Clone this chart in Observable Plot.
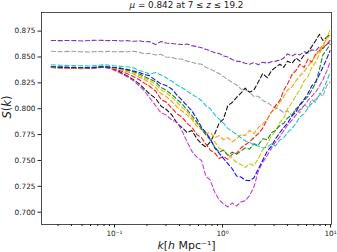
<!DOCTYPE html>
<html><head><meta charset="utf-8">
<script src="https://cdn.jsdelivr.net/npm/d3@7"></script>
<script src="https://cdn.jsdelivr.net/npm/@observablehq/plot@0.6"></script>
<style>body{margin:0;background:#fff}svg{display:block}</style>
</head><body><div id="chart"></div>
<script>
const title = "μ = 0.842 at 7 ≤ z ≤ 19.2";
const xLabel = "k[h Mpc⁻¹]";
const yLabel = "S(k)";
const yTicks = [0.700, 0.725, 0.750, 0.775, 0.800, 0.825, 0.850, 0.875];
const xMajor = [0.1, 1, 10];
const xMajorLabels = ["10⁻¹", "10⁰", "10¹"];
const xMinor = [0.03,0.04,0.05,0.06,0.07,0.08,0.09,0.2,0.3,0.4,0.5,0.6,0.7,0.8,0.9,2,3,4,5,6,7,8,9];

const k = [0.026,0.032,0.04,0.05,0.06,0.07,0.08,0.09,0.1,0.115,0.13,0.15,0.17,0.19,0.21,0.24,0.27,0.3,0.34,0.38,0.42,0.47,0.52,0.58,0.64,0.7,0.77,0.85,0.93,1.02,1.12,1.23,1.35,1.48,1.62,1.78,1.95,2.15,2.35,2.6,2.85,3.1,3.4,3.7,4.0,4.4,4.8,5.2,5.7,6.2,6.7,7.3,7.9,8.5,9.2,9.9];

const sPurple = [0.866,0.8658,0.866,0.8655,0.866,0.8663,0.866,0.8658,0.866,0.8655,0.8658,0.8652,0.8657,0.8645,0.865,0.862,0.865,0.8635,0.863,0.8625,0.862,0.8625,0.861,0.860,0.859,0.8575,0.856,0.854,0.8535,0.851,0.850,0.8475,0.846,0.8455,0.844,0.843,0.8445,0.8425,0.845,0.844,0.8455,0.846,0.847,0.849,0.853,0.851,0.853,0.852,0.855,0.854,0.857,0.856,0.860,0.858,0.862,0.864];
const sGray = [0.8555,0.855,0.8555,0.855,0.8548,0.8555,0.855,0.8555,0.855,0.8553,0.855,0.8555,0.8545,0.853,0.8535,0.852,0.8525,0.850,0.8495,0.848,0.848,0.846,0.845,0.8435,0.843,0.840,0.8385,0.836,0.834,0.831,0.828,0.8255,0.823,0.819,0.8185,0.816,0.812,0.812,0.808,0.806,0.803,0.801,0.799,0.796,0.798,0.793,0.800,0.796,0.804,0.801,0.809,0.806,0.815,0.812,0.822,0.826];
const sBlack = [0.8398,0.8395,0.839,0.8388,0.839,0.8398,0.8402,0.8395,0.838,0.835,0.832,0.828,0.824,0.819,0.8145,0.810,0.8025,0.7995,0.794,0.786,0.782,0.777,0.779,0.771,0.766,0.763,0.768,0.776,0.786,0.790,0.803,0.806,0.811,0.815,0.820,0.816,0.818,0.826,0.834,0.830,0.837,0.840,0.843,0.840,0.846,0.844,0.849,0.846,0.852,0.855,0.860,0.866,0.872,0.866,0.869,0.872];
const sMagenta = [0.8400,0.8396,0.8392,0.839,0.8388,0.8395,0.840,0.839,0.837,0.834,0.831,0.827,0.822,0.817,0.811,0.803,0.796,0.794,0.789,0.787,0.779,0.768,0.759,0.753,0.750,0.735,0.731,0.719,0.712,0.708,0.705,0.709,0.706,0.710,0.711,0.716,0.724,0.740,0.748,0.755,0.762,0.768,0.773,0.779,0.784,0.789,0.794,0.799,0.803,0.808,0.812,0.816,0.822,0.828,0.836,0.845];
const sRed = [0.8402,0.8398,0.8395,0.8392,0.8393,0.840,0.8407,0.8398,0.8385,0.8365,0.834,0.831,0.828,0.8245,0.822,0.817,0.809,0.8065,0.8005,0.795,0.792,0.786,0.782,0.775,0.772,0.766,0.760,0.757,0.752,0.754,0.751,0.756,0.757,0.762,0.765,0.768,0.772,0.776,0.781,0.790,0.797,0.803,0.808,0.818,0.824,0.833,0.837,0.843,0.840,0.848,0.845,0.853,0.856,0.859,0.862,0.866];
const sOrange = [0.8398,0.8395,0.8393,0.839,0.8392,0.840,0.8405,0.840,0.839,0.8375,0.836,0.8335,0.8305,0.828,0.8255,0.8205,0.8145,0.812,0.807,0.8015,0.798,0.794,0.790,0.783,0.780,0.776,0.777,0.772,0.774,0.770,0.772,0.768,0.771,0.775,0.774,0.779,0.776,0.782,0.785,0.790,0.797,0.800,0.806,0.812,0.818,0.821,0.827,0.832,0.836,0.841,0.846,0.851,0.857,0.862,0.867,0.871];
const sYellow = [0.8408,0.8402,0.840,0.8397,0.8398,0.8405,0.841,0.8403,0.8395,0.8385,0.837,0.835,0.832,0.8295,0.8275,0.8235,0.818,0.8155,0.811,0.806,0.8015,0.797,0.791,0.786,0.781,0.777,0.771,0.768,0.762,0.760,0.756,0.752,0.748,0.746,0.743,0.747,0.745,0.752,0.760,0.766,0.774,0.778,0.787,0.791,0.800,0.806,0.813,0.818,0.827,0.831,0.840,0.845,0.853,0.860,0.868,0.876];
const sGreen = [0.8405,0.8405,0.840,0.8398,0.8397,0.8403,0.841,0.8405,0.8398,0.839,0.8375,0.836,0.8335,0.831,0.829,0.826,0.8205,0.818,0.8135,0.809,0.805,0.799,0.7935,0.787,0.780,0.775,0.770,0.763,0.758,0.760,0.755,0.758,0.756,0.759,0.762,0.761,0.766,0.765,0.771,0.770,0.777,0.779,0.784,0.786,0.791,0.794,0.800,0.803,0.808,0.812,0.818,0.825,0.838,0.852,0.857,0.862];
const sBlue = [0.8405,0.840,0.8398,0.8396,0.8395,0.840,0.8405,0.840,0.8398,0.839,0.838,0.8365,0.835,0.833,0.832,0.8275,0.824,0.8225,0.819,0.813,0.8085,0.803,0.798,0.790,0.782,0.777,0.771,0.762,0.757,0.752,0.747,0.742,0.735,0.734,0.731,0.7305,0.733,0.742,0.750,0.759,0.764,0.771,0.777,0.782,0.786,0.793,0.797,0.804,0.809,0.815,0.822,0.826,0.833,0.840,0.848,0.856];
const sCyan = [0.8425,0.842,0.8418,0.8415,0.8412,0.842,0.8425,0.842,0.8415,0.841,0.8405,0.8395,0.837,0.8355,0.8335,0.835,0.8325,0.830,0.8265,0.823,0.8205,0.817,0.814,0.811,0.808,0.803,0.800,0.794,0.790,0.786,0.781,0.778,0.775,0.772,0.769,0.7675,0.765,0.764,0.762,0.763,0.766,0.764,0.770,0.772,0.777,0.781,0.786,0.792,0.795,0.801,0.805,0.809,0.813,0.818,0.826,0.835];

const seriesNames = ["purple","gray","black","magenta","red","orange","yellow","green","blue","cyan"];
const seriesValues = [sPurple,sGray,sBlack,sMagenta,sRed,sOrange,sYellow,sGreen,sBlue,sCyan];
const seriesColors = ["#7a35b8","#a0a0a0","#151515","#cc3fd6","#ff1a1a","#ff9c00","#c8c414","#138a13","#1010ee","#22c5cc"];

const rows = [];
seriesValues.forEach((vals, i) => vals.forEach((v, j) => rows.push({k: k[j], S: v, name: seriesNames[i]})));

const lines = seriesNames.map((name, i) => Plot.line(rows.filter(r => r.name === name), {
  x: "k", y: "S", stroke: seriesColors[i], strokeWidth: 1.1, strokeDasharray: "4.2,2.6"
}));

const plot = Plot.plot({
  width: 337, height: 252,
  marginLeft: 41, marginRight: 6, marginTop: 12, marginBottom: 28,
  x: {type: "log", domain: [0.02109, 10.215]},
  y: {domain: [0.6881, 0.893]},
  style: {fontFamily: "DejaVu Sans", fontSize: "7.3px", color: "#222", background: "#fff"},
  marks: [
    Plot.axisY({ticks: yTicks, tickFormat: d3.format(".3f"), tickSize: 3.5, tickPadding: 2.5, label: null}),
    Plot.axisX({ticks: xMinor, tickSize: 2, tickFormat: () => "", label: null}),
    Plot.axisX({ticks: xMajor, tickSize: 3.5, tickPadding: 2.5, tickFormat: d => xMajorLabels[xMajor.indexOf(d)], label: null}),
    ...lines,
    Plot.frame({stroke: "#222", strokeWidth: 0.8}),
    Plot.text([title], {text: d => d, frameAnchor: "top", dy: -7.4, lineAnchor: "middle", fontSize: 8.8}),
    Plot.text([xLabel], {text: d => d, frameAnchor: "bottom", dy: 20.5, lineAnchor: "middle", fontSize: 11}),
    Plot.text([yLabel], {text: d => d, frameAnchor: "left", dx: -34, rotate: -90, lineAnchor: "middle", fontSize: 11.5})
  ]
});

const svgns = "http://www.w3.org/2000/svg";
function rich(plain, parts) {
  for (const t of plot.querySelectorAll("text")) {
    if (t.textContent === plain) {
      t.textContent = "";
      for (const [str, it] of parts) {
        const ts = document.createElementNS(svgns, "tspan");
        ts.textContent = str;
        if (it) ts.setAttribute("font-style", "italic");
        t.appendChild(ts);
      }
    }
  }
}
rich(title, [["μ", true], [" = 0.842 at 7 ≤ ", false], ["z", true], [" ≤ 19.2", false]]);
rich(xLabel, [["k", true], ["[", false], ["h", true], [" Mpc⁻¹]", false]]);
rich(yLabel, [["S", true], ["(", false], ["k", true], [")", false]]);

document.getElementById("chart").appendChild(plot);
</script>
</body></html>
